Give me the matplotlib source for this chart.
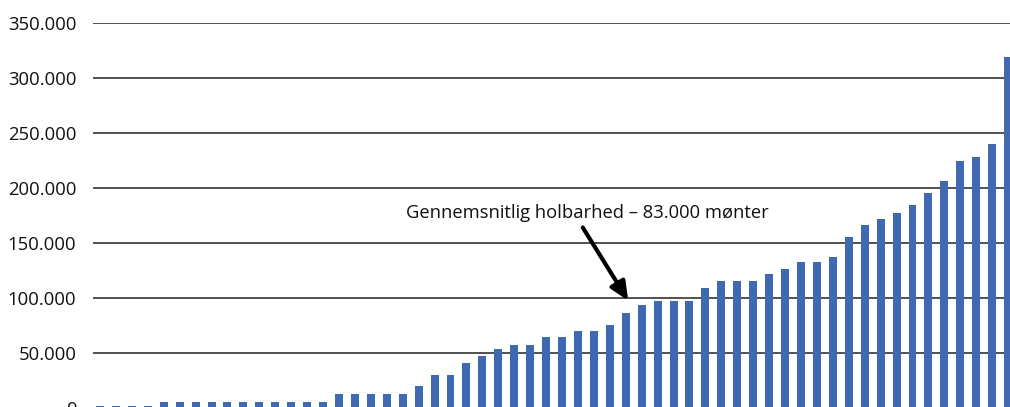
import matplotlib
matplotlib.use("Agg")
import matplotlib.pyplot as plt
from matplotlib.ticker import FuncFormatter

# holdbarhed pr. mønt, sorteret stigende
values = [1500, 1500, 1500, 1500,
          5000, 5000, 5000, 5000, 5000, 5000, 5000, 5000, 5000, 5000, 5000,
          12500, 12500, 12500, 12500, 12500,
          20000, 30000, 30000, 41000, 47000, 53000, 57000, 57000, 64000, 64000,
          70000, 70000, 75000, 86500, 93000, 97500, 97500, 97500, 108500, 115500,
          115500, 115500, 122000, 126500, 133000, 133000, 137000, 155000, 166000, 172000,
          177000, 184500, 195000, 206000, 224000, 228500, 239500, 319000]
yticks = [0, 50000, 100000, 150000, 200000, 250000, 300000, 350000]
note = "Gennemsnitlig holbarhed \u2013 83.000 m\u00f8nter"

plt.rcParams['font.family'] = ['Open Sans', 'DejaVu Sans']

fig = plt.figure(figsize=(10.10, 4.07), dpi=100)
ax = fig.add_axes([93 / 1010, -0.0017, (1010 - 93) / 1010, 0.9452])

x = list(range(len(values)))
ax.bar(x, values, width=0.5, color='#4169b2', zorder=3)

ax.set_ylim(0, 350000)
ax.set_xlim(-0.44, 57.12)
ax.set_yticks(yticks)
ax.yaxis.set_major_formatter(FuncFormatter(lambda v, p: f"{int(v):,}".replace(",", ".")))
ax.set_xticks([])
ax.tick_params(axis='y', length=0, pad=12, labelsize=13.3, labelcolor='#111111')
ax.grid(axis='y', color='#222222', linewidth=1.1, zorder=1)
for s in ax.spines.values():
    s.set_visible(False)
ax.spines['bottom'].set_visible(True)
ax.spines['bottom'].set_color('#222222')

# pil og tekst
ax.text(30.6, 177000, note, ha='center', va='center', fontsize=13.2, color='#111111')
ax.annotate('', xy=(33.15, 97500), xytext=(30.3, 164000),
            arrowprops=dict(arrowstyle='-|>,head_length=1.1,head_width=0.5',
                            color='black', lw=3,
                            shrinkA=0, shrinkB=0))

fig.savefig("out.png", dpi=100)
